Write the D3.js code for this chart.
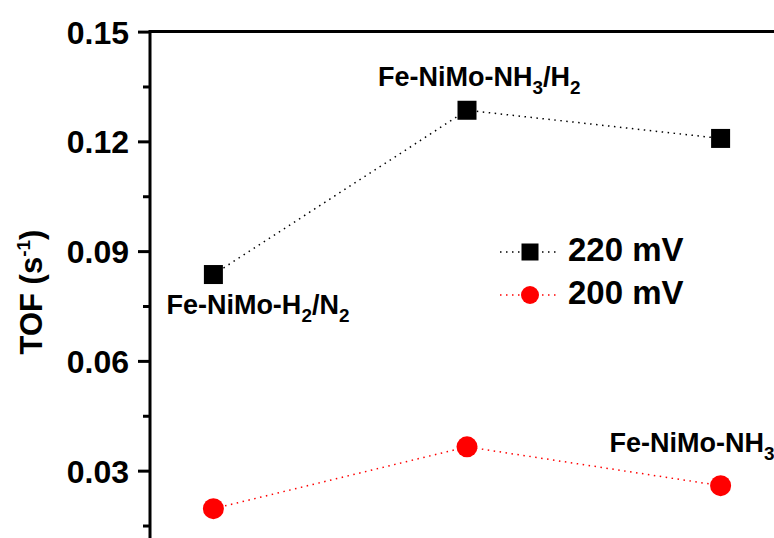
<!DOCTYPE html>
<html>
<head>
<meta charset="utf-8">
<script src="https://cdn.jsdelivr.net/npm/d3@7/dist/d3.min.js"></script>
<style>
  html, body { margin: 0; padding: 0; background: #fff; }
  svg { display: block; }
  text { font-family: "Liberation Sans", Arial, sans-serif; font-weight: bold; fill: #000; }
</style>
</head>
<body>
<svg id="chart" width="774" height="538"></svg>
<script>
// Samples (x position) and their names; "_" marks a subscript character
const positions = [1, 2, 3];
const sampleNames = ["Fe-NiMo-H_2/N_2", "Fe-NiMo-NH_3/H_2", "Fe-NiMo-NH_3"];

// Turnover frequency (s^-1) at each overpotential
const tof220 = [0.0836, 0.1285, 0.1208];
const tof200 = [0.0196, 0.0365, 0.0259];

const seriesNames = ["220 mV", "200 mV"];

// Axis ticks
const majorTicks = [0.03, 0.06, 0.09, 0.12, 0.15];
const minorTicks = [0.015, 0.045, 0.075, 0.105, 0.135];

const svg = d3.select("#chart");

const x = d3.scaleLinear().domain([0.75, 3.25]).range([150, 784]);
const y = d3.scaleLinear().domain([0, 0.15]).range([580.4, 31.6]);

// Frame: top edge
svg.append("line")
  .attr("x1", x.range()[0]).attr("x2", 774)
  .attr("y1", y(0.15)).attr("y2", y(0.15))
  .attr("stroke", "#000").attr("stroke-width", 3);

// Minor ticks
const minorAxis = svg.append("g")
  .attr("transform", `translate(${x.range()[0]},0)`)
  .call(d3.axisLeft(y).tickValues(minorTicks).tickSize(7).tickFormat(""));
minorAxis.select(".domain").remove();
minorAxis.selectAll(".tick line").attr("stroke", "#000").attr("stroke-width", 3);

// Major ticks with labels
const yAxis = svg.append("g")
  .attr("transform", `translate(${x.range()[0]},0)`)
  .call(d3.axisLeft(y).tickValues(majorTicks).tickSize(12).tickPadding(9)
    .tickFormat(d3.format(".2f")));
yAxis.select(".domain").remove();
yAxis.selectAll(".tick line").attr("stroke", "#000").attr("stroke-width", 3);
yAxis.selectAll(".tick text")
  .attr("font-size", 32)
  .attr("font-family", "'Liberation Sans', Arial, sans-serif")
  .attr("font-weight", "bold")
  .attr("fill", "#000")
  .attr("dy", "0.36em");

// Left axis line
svg.append("line")
  .attr("x1", x.range()[0]).attr("x2", x.range()[0])
  .attr("y1", y(0.15) - 1.5).attr("y2", 538)
  .attr("stroke", "#000").attr("stroke-width", 3);

// Axis title
const title = svg.append("text")
  .attr("transform", `translate(42,292) rotate(-90)`)
  .attr("text-anchor", "middle")
  .attr("font-size", 31);
title.append("tspan").text("TOF (s");
title.append("tspan").attr("font-size", 19).attr("dy", -12).text("-1");
title.append("tspan").attr("dy", 12).text(")");

// Series lines and markers
const line = d3.line().x((d, i) => x(positions[i])).y(d => y(d));

svg.append("path").datum(tof220)
  .attr("d", line).attr("fill", "none")
  .attr("stroke", "#000").attr("stroke-width", 1.5).attr("stroke-dasharray", "1.5,4.5");
svg.append("path").datum(tof200)
  .attr("d", line).attr("fill", "none")
  .attr("stroke", "#ff0000").attr("stroke-width", 1.5).attr("stroke-dasharray", "1.5,4.5");

const sq = 19;
svg.selectAll("rect.p220").data(tof220).join("rect")
  .attr("class", "p220")
  .attr("x", (d, i) => x(positions[i]) - sq / 2)
  .attr("y", d => y(d) - sq / 2)
  .attr("width", sq).attr("height", sq)
  .attr("fill", "#000");

svg.selectAll("circle.p200").data(tof200).join("circle")
  .attr("class", "p200")
  .attr("cx", (d, i) => x(positions[i]))
  .attr("cy", d => y(d))
  .attr("r", 10.5)
  .attr("fill", "#ff0000");

// Text with "_" subscripts
function richText(sel, str, size) {
  const parts = str.split(/(_.)/).filter(s => s.length);
  let sub = false;
  parts.forEach(p => {
    if (p.startsWith("_")) {
      sel.append("tspan").attr("font-size", size * 0.7).attr("dy", sub ? 0 : 8).text(p.slice(1));
      sub = true;
    } else {
      sel.append("tspan").attr("font-size", size).attr("dy", sub ? -8 : 0).text(p);
      sub = false;
    }
  });
}

// Sample names beside their markers
const nameAnchors = [
  { px: x(positions[0]) - 47, py: y(tof220[0]) + 39 },
  { px: x(positions[1]) - 89, py: y(tof220[1]) - 24 },
  { px: x(positions[2]) - 111, py: y(tof200[2]) - 34 }
];
sampleNames.forEach((name, i) => {
  const t = svg.append("text")
    .attr("x", nameAnchors[i].px).attr("y", nameAnchors[i].py);
  richText(t, name, 27);
});

// Legend
const legendRows = [
  { y: 252, color: "#000", shape: "square" },
  { y: 295, color: "#ff0000", shape: "circle" }
];
legendRows.forEach((row, i) => {
  const g = svg.append("g");
  g.append("line")
    .attr("x1", 500).attr("x2", 560).attr("y1", row.y).attr("y2", row.y)
    .attr("stroke", row.color).attr("stroke-width", 1.5).attr("stroke-dasharray", "1.5,4.5");
  if (row.shape === "square") {
    g.append("rect").attr("x", 530 - 8.5).attr("y", row.y - 8.5)
      .attr("width", 17).attr("height", 17).attr("fill", row.color);
  } else {
    g.append("circle").attr("cx", 530).attr("cy", row.y).attr("r", 9).attr("fill", row.color);
  }
  g.append("text").attr("x", 568).attr("y", row.y + 9)
    .attr("font-size", 33).text(seriesNames[i]);
});
</script>
</body>
</html>
